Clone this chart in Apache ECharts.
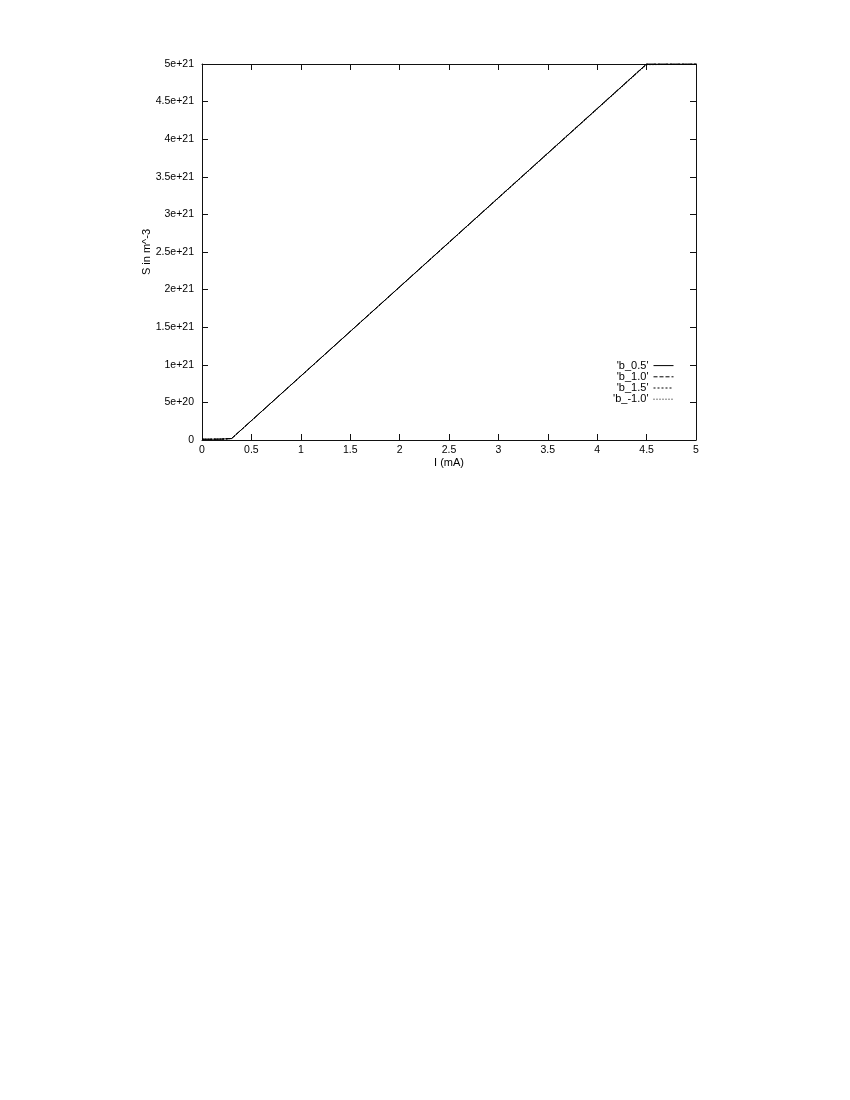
<!DOCTYPE html>
<html>
<head>
<meta charset="utf-8">
<script src="https://cdn.jsdelivr.net/npm/echarts@6/dist/echarts.min.js"></script>
<style>
  html, body { margin: 0; padding: 0; background: #fff; }
  #chart { width: 850px; height: 1100px; }
</style>
</head>
<body>
<div id="chart"></div>
<script>
// current in mA
const current = [0, 0.1, 0.2, 0.3, 4.5, 5.0];
// photon density S per series (m^-3) (saturates at top edge)
const sB05 = [1.0e19, 1.0e19, 1.2e19, 2.0e19, 5.00e21, 5.00e21];
const sB10 = [1.0e19, 1.0e19, 1.2e19, 2.0e19, 5.00e21, 5.00e21];
const sB15 = [1.0e19, 1.0e19, 1.2e19, 2.0e19, 5.00e21, 5.00e21];
const sBm10 = [1.0e19, 1.0e19, 1.2e19, 2.0e19, 4.99e21, 5.00e21];
const seriesNames = ["'b_0.5'", "'b_1.0'", "'b_1.5'", "'b_-1.0'"];
const xTicks = { min: 0, max: 5, interval: 0.5 };
const yTicks = { min: 0, max: 5e21, interval: 5e20 };

const chart = echarts.init(document.getElementById('chart'));

const font = 'Liberation Sans, Arial, sans-serif';
const axisColor = '#111';

const pair = arr => current.map((x, i) => [x, arr[i]]);

const lineSeries = (name, arr, type, width) => ({
  name: name,
  type: 'line',
  data: pair(arr),
  symbol: 'none',
  color: '#000',
  clip: true,
  animation: false,
  lineStyle: { color: '#000', width: width, type: type }
});

const fmtY = v => v === 0 ? '0' : v.toExponential();

const tick = { inside: true, length: 6, lineStyle: { color: axisColor } };
const line = { show: true, onZero: false, lineStyle: { color: axisColor, width: 1 } };

const option = {
  backgroundColor: '#fff',
  textStyle: { fontFamily: font },
  grid: { left: 202, right: 154, top: 64, bottom: 660, containLabel: false },
  legend: {
    orient: 'vertical',
    right: 176,
    top: 360,
    padding: 0,
    align: 'right',
    itemWidth: 20,
    itemHeight: 6,
    itemGap: 0,
    itemStyle: { opacity: 0 },
    lineStyle: { width: 1 },
    textStyle: { fontSize: 11, lineHeight: 11.2, color: '#000', fontFamily: font, padding: [0, 0, 0, 0] },
    data: seriesNames
  },
  xAxis: [
    {
      type: 'value', min: xTicks.min, max: xTicks.max, interval: xTicks.interval,
      name: 'I (mA)', nameLocation: 'middle', nameGap: 17, nameMoveOverlap: false,
      nameTextStyle: { fontSize: 11, color: '#000' },
      axisLine: line,
      axisTick: tick,
      axisLabel: { fontSize: 10.5, color: '#000', margin: 5 },
      splitLine: { show: false }
    },
    {
      type: 'value', position: 'top', min: xTicks.min, max: xTicks.max, interval: xTicks.interval,
      axisLine: line,
      axisTick: tick,
      axisLabel: { show: false },
      splitLine: { show: false }
    }
  ],
  yAxis: [
    {
      type: 'value', min: yTicks.min, max: yTicks.max, interval: yTicks.interval,
      name: 'S in m^-3', nameLocation: 'middle', nameRotate: 90, nameGap: 50, nameMoveOverlap: false,
      nameTextStyle: { fontSize: 11, color: '#000' },
      axisLine: line,
      axisTick: Object.assign({ show: true }, tick),
      axisLabel: { fontSize: 10.5, color: '#000', margin: 8, formatter: fmtY },
      splitLine: { show: false }
    },
    {
      type: 'value', position: 'right', min: yTicks.min, max: yTicks.max, interval: yTicks.interval,
      axisLine: line,
      axisTick: Object.assign({ show: true }, tick),
      axisLabel: { show: false },
      splitLine: { show: false }
    }
  ],
  series: [
    lineSeries(seriesNames[0], sB05, 'solid', 1),
    lineSeries(seriesNames[1], sB10, [4, 2], 1),
    lineSeries(seriesNames[2], sB15, [2, 2], 1),
    lineSeries(seriesNames[3], sBm10, [1, 2], 1)
  ]
};

chart.setOption(option);
</script>
</body>
</html>
